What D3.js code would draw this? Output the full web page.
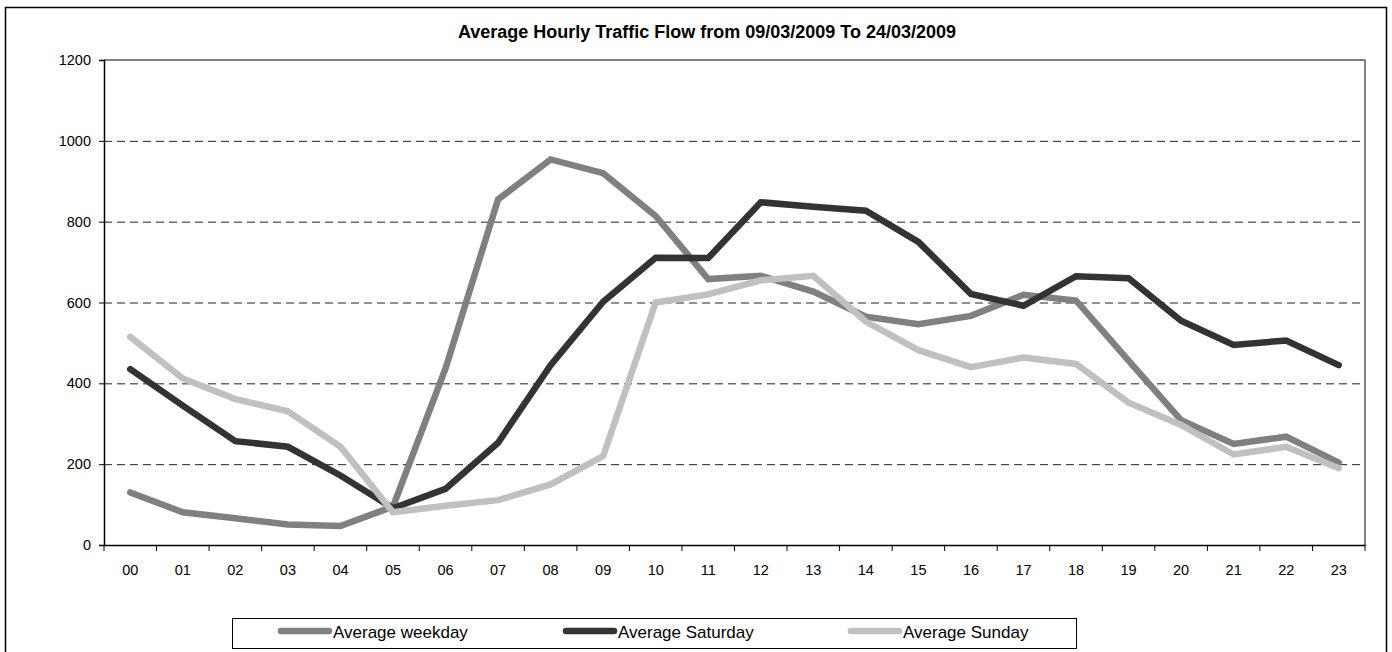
<!DOCTYPE html>
<html><head><meta charset="utf-8">
<script src="https://cdn.jsdelivr.net/npm/d3@7"></script>
<style>
html,body{margin:0;padding:0;background:#fff;}
svg{display:block;font-family:"Liberation Sans",Arial,sans-serif;}
</style></head>
<body>
<svg id="c" width="1392" height="652"></svg>
<script>
const hours = ["00","01","02","03","04","05","06","07","08","09","10","11","12","13","14","15","16","17","18","19","20","21","22","23"];
const weekday  = [130, 81, 66, 51, 47, 95, 437, 855, 954, 920, 814, 658, 666, 627, 565, 546, 567, 619, 605, 456, 309, 250, 268, 204];
const saturday = [435, 345, 257, 243, 172, 91, 139, 253, 445, 602, 711, 710, 848, 837, 827, 750, 621, 592, 665, 660, 555, 495, 506, 445];
const sunday   = [515, 412, 361, 331, 243, 81, 97, 111, 150, 220, 600, 620, 655, 666, 553, 482, 440, 464, 448, 352, 297, 224, 243, 190];
const seriesNames = ["Average weekday","Average Saturday","Average Sunday"];
const yTicks = [0,200,400,600,800,1000,1200];
const title = "Average Hourly Traffic Flow from 09/03/2009 To 24/03/2009";

const colors = ["#808080","#333333","#c0c0c0"];
const svg = d3.select("#c");
const L=104, R=1365, T=60, B=545;

// outer chart border
svg.append("rect").attr("x",5.5).attr("y",7.5).attr("width",1381).attr("height",660)
  .attr("fill","none").attr("stroke","#000").attr("stroke-width",1.5);

const x = d3.scaleBand().domain(hours).range([L,R]).padding(0);
const y = d3.scaleLinear().domain([0,1200]).range([B,T]);

// gridlines
svg.append("g").selectAll("line").data(yTicks.filter(v=>v>0 && v<1200)).join("line")
  .attr("x1",L).attr("x2",R-4).attr("y1",d=>y(d)+0.5).attr("y2",d=>y(d)+0.5)
  .attr("stroke","#222").attr("stroke-width",1).attr("stroke-dasharray","8,5");

// plot border top/right
svg.append("line").attr("x1",L).attr("x2",R).attr("y1",T).attr("y2",T).attr("stroke","#808080").attr("stroke-width",2);
svg.append("line").attr("x1",R).attr("x2",R).attr("y1",T).attr("y2",B).attr("stroke","#808080").attr("stroke-width",2);

// y axis
const yAxis = d3.axisLeft(y).tickValues(yTicks).tickSize(5).tickPadding(8).tickFormat(d3.format("d"));
const gy = svg.append("g").attr("transform",`translate(${L},0)`).call(yAxis);
gy.select(".domain").attr("stroke","#000").attr("stroke-width",1.5);
gy.selectAll(".tick line").attr("stroke","#000");
gy.selectAll("text").attr("font-size",14.5).attr("font-family","Liberation Sans, Arial, sans-serif").attr("fill","#000");

// x axis
const xAxis = d3.axisBottom(x).tickSize(0).tickPadding(20);
const gx = svg.append("g").attr("transform",`translate(0,${B})`).call(xAxis);
gx.select(".domain").attr("stroke","#000").attr("stroke-width",1.5);
gx.selectAll("text").attr("font-size",14.5).attr("font-family","Liberation Sans, Arial, sans-serif").attr("fill","#000");
// ticks between categories
const bounds = hours.map(h=>x(h)).concat([R]);
svg.append("g").selectAll("line").data(bounds).join("line")
  .attr("x1",d=>d).attr("x2",d=>d).attr("y1",B).attr("y2",B+6)
  .attr("stroke","#000").attr("stroke-width",1);

// lines
const line = d3.line().x((d,i)=>x(hours[i])+x.bandwidth()/2).y(d=>y(d));
[weekday,saturday,sunday].forEach((s,i)=>{
  svg.append("path").datum(s).attr("d",line).attr("fill","none")
    .attr("stroke",colors[i]).attr("stroke-width",6.5)
    .attr("stroke-linejoin","miter").attr("stroke-linecap","round");
});

// title
svg.append("text").attr("x",707).attr("y",38).attr("text-anchor","middle")
  .attr("font-size",18).attr("font-weight","bold").attr("fill","#000").text(title);

// legend
svg.append("rect").attr("x",232.5).attr("y",618.5).attr("width",844).attr("height",30)
  .attr("fill","#fff").attr("stroke","#000").attr("stroke-width",1);
const legX = [278, 563, 848];
seriesNames.forEach((n,i)=>{
  svg.append("line").attr("x1",legX[i]+3).attr("x2",legX[i]+51).attr("y1",631).attr("y2",631)
    .attr("stroke",colors[i]).attr("stroke-width",6.5).attr("stroke-linecap","round");
  svg.append("text").attr("x",legX[i]+55).attr("y",638).attr("font-size",17).attr("fill","#000").text(n);
});
</script>
</body></html>
